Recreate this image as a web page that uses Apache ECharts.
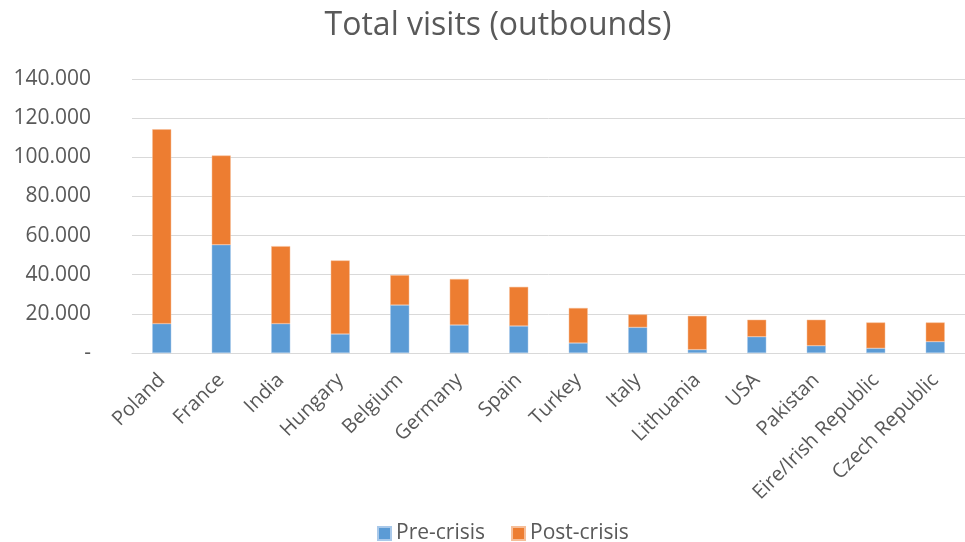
<!DOCTYPE html>
<html>
<head>
<meta charset="utf-8">
<script src="https://cdn.jsdelivr.net/npm/echarts@6/dist/echarts.min.js"></script>
<style>html,body{margin:0;padding:0;background:#fff}#c{width:965px;height:542px}</style>
</head>
<body>
<div id="c"></div>
<script>
const categories = ["Poland","France","India","Hungary","Belgium","Germany","Spain","Turkey","Italy","Lithuania","USA","Pakistan","Eire/Irish Republic","Czech Republic"];
const preCrisis = [15000,55300,15000,9700,24500,14300,13800,5100,13100,1700,8300,3700,2400,5800];
const postCrisis = [99300,45600,39600,37600,15300,23500,20000,17900,6600,17300,8700,13300,13200,9800];
const yTicks = [0,20000,40000,60000,80000,100000,120000,140000];

const font = "'Open Sans', 'Noto Sans', sans-serif";
const chart = echarts.init(document.getElementById('c'));
chart.setOption({
  animation: false,
  title: {
    text: 'Total visits (outbounds)',
    left: 493, top: 5, textAlign: 'center',
    textStyle: {fontFamily: font, fontSize: 32, fontWeight: 'normal', color: '#595959'}
  },
  legend: {
    top: 518, left: 372,
    itemWidth: 13, itemHeight: 13, itemGap: 26,
    icon: 'rect',
    textStyle: {fontFamily: font, fontSize: 21, color: '#595959'},
    data: ['Pre-crisis','Post-crisis']
  },
  grid: {left: 132, top: 79, width: 843, height: 274},
  xAxis: {
    type: 'category', data: categories,
    axisLine: {lineStyle: {color: '#D9D9D9', width: 1}},
    axisTick: {show: false},
    axisLabel: {rotate: 45, interval: 0, fontFamily: font, fontSize: 20, color: '#595959', margin: 24}
  },
  yAxis: {
    type: 'value', min: yTicks[0], max: yTicks[yTicks.length-1], interval: 20000,
    axisLine: {show: false}, axisTick: {show: false},
    splitLine: {lineStyle: {color: '#D9D9D9', width: 1}},
    axisLabel: {
      fontFamily: font, fontSize: 21, color: '#595959', margin: 41,
      formatter: v => v === 0 ? '-' : (v/1000).toFixed(0) + '.000'
    }
  },
  series: [
    {name: 'Pre-crisis', type: 'bar', stack: 's', data: preCrisis, barWidth: 19,
     itemStyle: {color: '#5B9BD5', borderColor: '#A9C9EA', borderWidth: 0.5}},
    {name: 'Post-crisis', type: 'bar', stack: 's', data: postCrisis, barWidth: 19,
     itemStyle: {color: '#ED7D31', borderColor: '#F6BE98', borderWidth: 0.5}}
  ]
});
</script>
</body>
</html>
